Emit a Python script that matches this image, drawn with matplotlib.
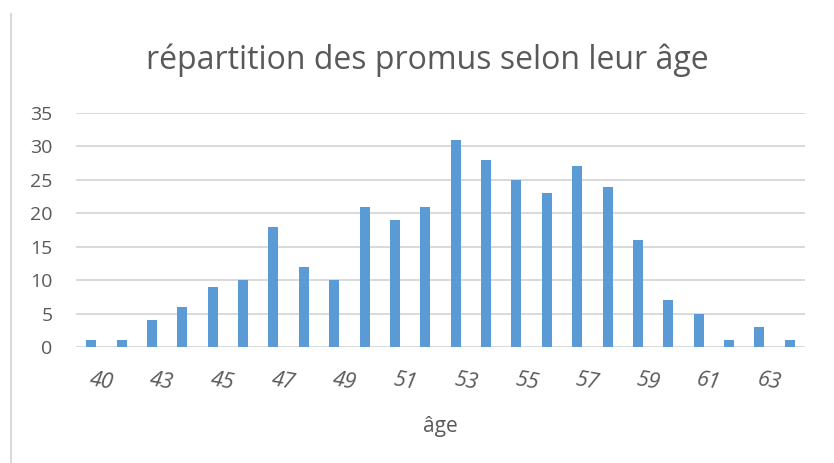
import numpy as np
import matplotlib.pyplot as plt
import matplotlib.transforms as mtransforms
from matplotlib.lines import Line2D

plt.rcParams['font.family'] = ['Open Sans', 'DejaVu Sans']

ages = [40, 42, 43, 44, 45, 46, 47, 48, 49, 50, 51, 52, 53, 54, 55, 56, 57, 58, 59, 60, 61, 62, 63, 64]
counts = [1, 1, 4, 6, 9, 10, 18, 12, 10, 21, 19, 21, 31, 28, 25, 23, 27, 24, 16, 7, 5, 1, 3, 1]
shown_labels = [40, 43, 45, 47, 49, 51, 53, 55, 57, 59, 61, 63]

bar_color = '#5b9bd5'
text_color = '#595959'
grid_color = '#d9d9d9'

fig = plt.figure(figsize=(8.34, 4.63), dpi=100)
ax = fig.add_axes([76/834, 1 - 347/463, (805 - 76)/834, (347 - 113)/463])

x = np.arange(len(ages))
ax.bar(x, counts, width=0.33, color=bar_color, zorder=3)

ax.set_xlim(-0.5, len(ages) - 0.5)
ax.set_ylim(0, 35)
ax.set_yticks(range(0, 36, 5))
ax.yaxis.grid(True, color=grid_color, linewidth=1.4, zorder=0)
for s in ax.spines.values():
    s.set_visible(False)
ax.tick_params(axis='both', length=0, colors=text_color)
ax.tick_params(axis='y', pad=17, labelsize=14)
ax.tick_params(axis='x', pad=10, labelsize=15.5)

# every other category gets a label
ax.set_xticks(x[::2])
ax.set_xticklabels([str(a) for a in shown_labels], rotation=-10, style='italic')
offset = mtransforms.ScaledTranslation(10/100, -8/100, fig.dpi_scale_trans)
for lab in ax.get_xticklabels():
    lab.set_transform(lab.get_transform() + offset)
    lab.set_ha('center')

ax.set_xlabel('âge', fontsize=15, color=text_color, labelpad=16)

fig.text(427/834, 1 - 60/463, 'répartition des promus selon leur âge',
         ha='center', va='center', fontsize=23, color=text_color)

fig.add_artist(Line2D([11/834, 11/834], [0, 1 - 14/463], color=grid_color, linewidth=1.5))

fig.savefig('out.png', dpi=100)
